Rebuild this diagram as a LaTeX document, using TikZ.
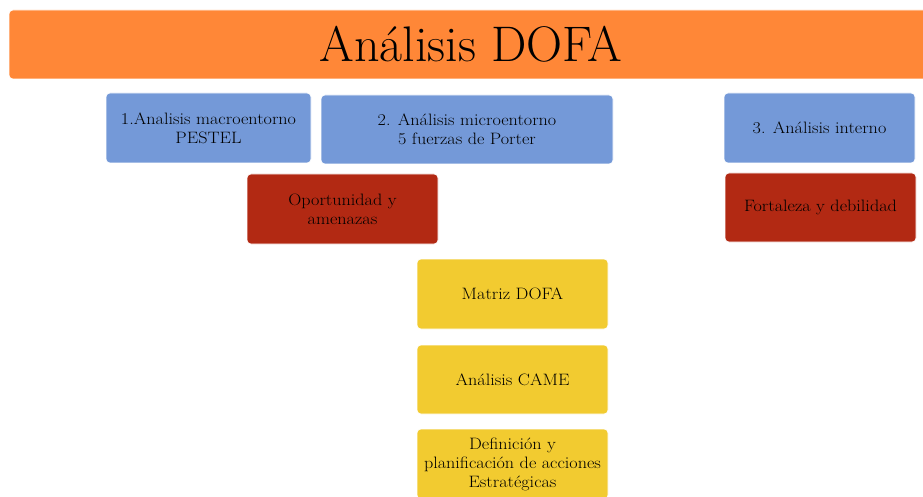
\documentclass[tikz,border=0pt]{standalone}
\usepackage{fontspec}
\newfontfamily\boxfont{Latin Modern Roman}[FakeStretch=1.1]
\definecolor{titleor}{RGB}{255,135,55}
\definecolor{boxblue}{RGB}{116,153,216}
\definecolor{boxred}{RGB}{178,41,19}
\definecolor{boxyel}{RGB}{242,203,48}
\tikzset{
  card/.style={rounded corners=4pt, inner sep=0pt, align=center, draw=white, line width=0.6pt,
    font=\boxfont\fontsize{16.5}{19}\selectfont, text=black},
  bluecard/.style={card, fill=boxblue},
  redcard/.style={card, fill=boxred},
  yelcard/.style={card, fill=boxyel},
}
\begin{document}
\begin{tikzpicture}[x=1pt,y=1pt]
\useasboundingbox (0,0) rectangle (923,496);
% title
\node[card, fill=titleor, minimum width=924pt, minimum height=69pt, font=\fontsize{50}{54}\selectfont]
  (title) at (471,451.5) {Análisis DOFA};
% blue row
\node[bluecard, minimum width=205pt, minimum height=70pt] (macro) at (208.5,368) {1.Analisis macroentorno\\PESTEL};
\node[bluecard, minimum width=292pt, minimum height=69pt] (micro) at (467,366.5) {2. Análisis microentorno\\5 fuerzas de Porter};
\node[bluecard, minimum width=191pt, minimum height=70pt] (interno) at (819.5,368) {3. Análisis interno};
% red row
\node[redcard, minimum width=191pt, minimum height=70pt] (oport) at (342.5,287) {Oportunidad y\\amenazas};
\node[redcard, minimum width=191pt, minimum height=69pt] (fort) at (820.5,288.5) {Fortaleza y debilidad};
% yellow column
\node[yelcard, minimum width=191pt, minimum height=70pt] (matriz) at (512.5,202) {Matriz DOFA};
\node[yelcard, minimum width=191pt, minimum height=69pt] (came) at (512.5,116.5) {Análisis CAME};
\node[yelcard, minimum width=191pt, minimum height=70pt] (defin) at (512.5,32) {Definición y\\planificación de acciones\\Estratégicas};
\end{tikzpicture}
\end{document}
